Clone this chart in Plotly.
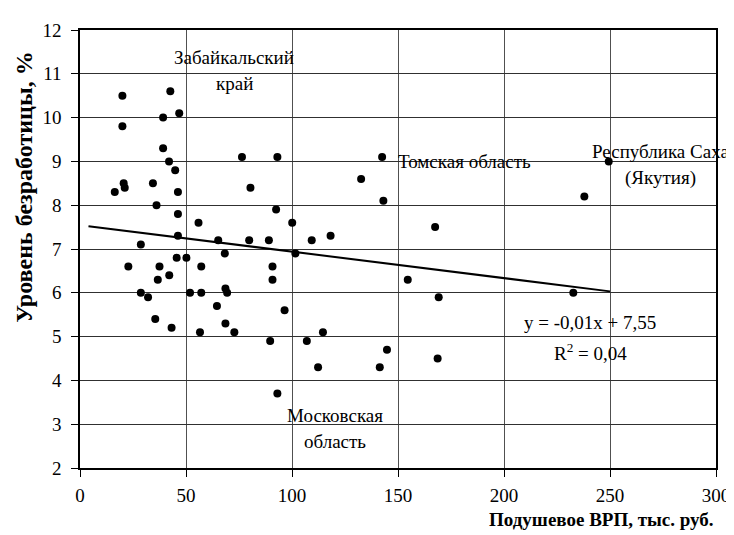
import plotly.graph_objects as go

# Per-capita GRP (thousand rubles) and unemployment rate (%)
gdp = [20.0, 42.6, 46.8, 39.2, 20.0, 39.2, 42.0, 44.9, 76.4, 93.1,
       20.6, 21.1, 16.4, 34.4, 46.2, 80.4, 36.1, 46.2, 92.5, 55.9,
       100.1, 28.7, 46.2, 65.2, 79.8, 89.1, 109.3, 68.3, 101.6, 45.6,
       50.2, 22.8, 37.5, 57.2, 90.8, 42.1, 36.7, 90.8, 28.7, 32.1,
       51.9, 57.2, 68.6, 69.4, 64.6, 96.5, 35.5, 43.2, 56.6, 68.6,
       72.8, 89.7, 107.0, 93.1, 142.5, 132.6, 143.1, 167.5, 118.2, 154.6,
       169.2, 114.6, 112.3, 141.4, 144.8, 168.7, 249.4, 237.9, 232.7]
unemp = [10.5, 10.6, 10.1, 10.0, 9.8, 9.3, 9.0, 8.8, 9.1, 9.1,
         8.5, 8.4, 8.3, 8.5, 8.3, 8.4, 8.0, 7.8, 7.9, 7.6,
         7.6, 7.1, 7.3, 7.2, 7.2, 7.2, 7.2, 6.9, 6.9, 6.8,
         6.8, 6.6, 6.6, 6.6, 6.6, 6.4, 6.3, 6.3, 6.0, 5.9,
         6.0, 6.0, 6.1, 6.0, 5.7, 5.6, 5.4, 5.2, 5.1, 5.3,
         5.1, 4.9, 4.9, 3.7, 9.1, 8.6, 8.1, 7.5, 7.3, 6.3,
         5.9, 5.1, 4.3, 4.3, 4.7, 4.5, 9.0, 8.2, 6.0]

# Linear trend (as drawn in the source)
trend_slope = -0.00605
trend_intercept = 7.545
trend_x = [4, 250]
trend_y = [trend_intercept + trend_slope * v for v in trend_x]

x_ticks = [0, 50, 100, 150, 200, 250, 300]
y_ticks = [2, 3, 4, 5, 6, 7, 8, 9, 10, 11, 12]

# Labels: (text, x, y, xanchor)
labels = [
    ("Забайкальский", 72.8, 11.38, "center"),
    ("край", 72.8, 10.78, "center"),
    ("Томская область", 149.2, 9.0, "left"),
    ("Республика Саха", 274.0, 9.22, "center"),
    ("(Якутия)", 273.9, 8.63, "center"),
    ("y = -0,01x + 7,55", 240.6, 5.32, "center"),
    ("R<sup>2</sup> = 0,04", 240.9, 4.64, "center"),
    ("Московская", 120.1, 3.21, "center"),
    ("область", 120.1, 2.60, "center"),
]

FONT = "Liberation Serif"

fig = go.Figure()
fig.add_trace(go.Scatter(
    x=gdp, y=unemp, mode="markers",
    marker=dict(color="black", size=8),
    showlegend=False, cliponaxis=False,
))
fig.add_trace(go.Scatter(
    x=trend_x, y=trend_y, mode="lines",
    line=dict(color="black", width=2),
    showlegend=False,
))

annotations = []
for text, ax, ay, anc in labels:
    annotations.append(dict(
        text=text, x=ax, y=ay, xref="x", yref="y",
        xanchor=anc, yanchor="middle", showarrow=False,
        font=dict(family=FONT, size=19, color="black"),
    ))
annotations.append(dict(
    text="<b>Подушевое ВРП, тыс. руб.</b>", x=1.0, y=-0.1176,
    xref="paper", yref="paper", xanchor="right", yanchor="middle",
    showarrow=False, font=dict(family=FONT, size=19, color="black"),
))
annotations.append(dict(
    text="<b>Уровень безработицы, %</b>", x=-0.0879, y=0.64,
    xref="paper", yref="paper", xanchor="center", yanchor="middle",
    textangle=-90, showarrow=False,
    font=dict(family=FONT, size=24, color="black"),
))

fig.update_layout(
    width=734, height=535,
    margin=dict(l=72, r=16, t=18, b=75),
    paper_bgcolor="white", plot_bgcolor="white",
    font=dict(family=FONT, size=19, color="black"),
    annotations=annotations,
    xaxis=dict(
        range=[0, 300], tickvals=x_ticks, ticktext=[str(v) for v in x_ticks],
        tickfont=dict(family=FONT, size=19, color="black"),
        showgrid=True, gridcolor="#505050", gridwidth=1,
        showline=True, linecolor="black", linewidth=1.5, mirror=True,
        ticks="outside", ticklen=7, tickcolor="black",
        ticklabelstandoff=2, zeroline=False,
    ),
    yaxis=dict(
        range=[2, 12], tickvals=y_ticks, ticktext=[str(v) for v in y_ticks],
        tickfont=dict(family=FONT, size=19, color="black"),
        showgrid=True, gridcolor="#303030", gridwidth=1,
        showline=True, linecolor="black", linewidth=1.5, mirror=True,
        ticks="outside", ticklen=7, tickcolor="black",
        ticklabelstandoff=6, zeroline=False,
    ),
)

fig.write_html("out.html")
